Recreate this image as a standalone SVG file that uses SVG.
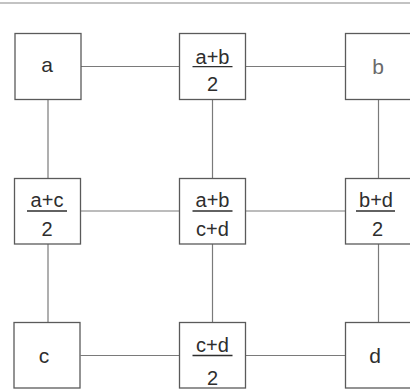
<svg xmlns="http://www.w3.org/2000/svg" width="410" height="392" viewBox="0 0 410 392">
<style>
.box{fill:#fff;stroke:#5a5a5a;stroke-width:1.3}
.con{stroke:#7a7a7a;stroke-width:1.2;fill:none}
.t{font-family:"Liberation Sans",Arial,sans-serif;fill:#2e2e2e;text-anchor:middle}
.s{font-size:21px}
.f{font-size:20px}
.bar{stroke:#2e2e2e;stroke-width:1.3}
</style>
<rect width="410" height="392" fill="#fff"/>
<line x1="0" y1="3" x2="410" y2="3" stroke="#888" stroke-width="1.2"/>
<g id="connectors">
<line class="con" x1="81" y1="66.5" x2="179.5" y2="66.5"/>
<line class="con" x1="245.5" y1="66.5" x2="345.5" y2="66.5"/>
<line class="con" x1="80.5" y1="211" x2="179.5" y2="211"/>
<line class="con" x1="245.5" y1="211" x2="345.5" y2="211"/>
<line class="con" x1="80.5" y1="355.5" x2="179.5" y2="355.5"/>
<line class="con" x1="245.5" y1="355.5" x2="345.5" y2="355.5"/>
<line class="con" x1="48" y1="99.5" x2="48" y2="178.5"/>
<line class="con" x1="212.5" y1="99.5" x2="212.5" y2="178.5"/>
<line class="con" x1="378.5" y1="99.5" x2="378.5" y2="178.5"/>
<line class="con" x1="48" y1="244" x2="48" y2="322.5"/>
<line class="con" x1="212.5" y1="244" x2="212.5" y2="322.5"/>
<line class="con" x1="378.5" y1="244" x2="378.5" y2="322.5"/>
</g>
<g id="n-a">
<rect class="box" x="15" y="33.5" width="66" height="66"/>
<text class="t s" x="47" y="72">a</text>
</g>
<g id="n-ab2">
<rect class="box" x="179.5" y="33.5" width="66" height="66"/>
<text class="t f" x="212.5" y="63.5">a+b</text>
<line class="bar" x1="192.5" y1="66.7" x2="232.5" y2="66.7"/>
<text class="t f" x="212.5" y="91">2</text>
</g>
<g id="n-b">
<rect class="box" x="345.5" y="33.5" width="66" height="66"/>
<text class="t s" x="378" y="74" style="fill:#6a6a6a">b</text>
</g>
<g id="n-ac2">
<rect class="box" x="14.5" y="178.5" width="66" height="65.5"/>
<text class="t f" x="47" y="207">a+c</text>
<line class="bar" x1="27" y1="211" x2="67" y2="211"/>
<text class="t f" x="47" y="235.5">2</text>
</g>
<g id="n-abcd">
<rect class="box" x="179.5" y="178.5" width="66" height="65.5"/>
<text class="t f" x="212.5" y="207">a+b</text>
<line class="bar" x1="192.5" y1="211" x2="232.5" y2="211"/>
<text class="t f" x="212.5" y="235.5">c+d</text>
</g>
<g id="n-bd2">
<rect class="box" x="345.5" y="178.5" width="66" height="65.5"/>
<text class="t f" x="376" y="207">b+d</text>
<line class="bar" x1="356" y1="211" x2="395" y2="211"/>
<text class="t f" x="377.5" y="235.5">2</text>
</g>
<g id="n-c">
<rect class="box" x="14" y="322.5" width="66" height="65.5"/>
<text class="t s" x="44" y="363">c</text>
</g>
<g id="n-cd2">
<rect class="box" x="179.5" y="322.5" width="66" height="65.5"/>
<text class="t f" x="212.5" y="351.5">c+d</text>
<line class="bar" x1="192.5" y1="355.5" x2="232.5" y2="355.5"/>
<text class="t f" x="212.5" y="384.5">2</text>
</g>
<g id="n-d">
<rect class="box" x="345.5" y="322.5" width="66" height="65.5"/>
<text class="t s" x="375" y="363">d</text>
</g>
</svg>
